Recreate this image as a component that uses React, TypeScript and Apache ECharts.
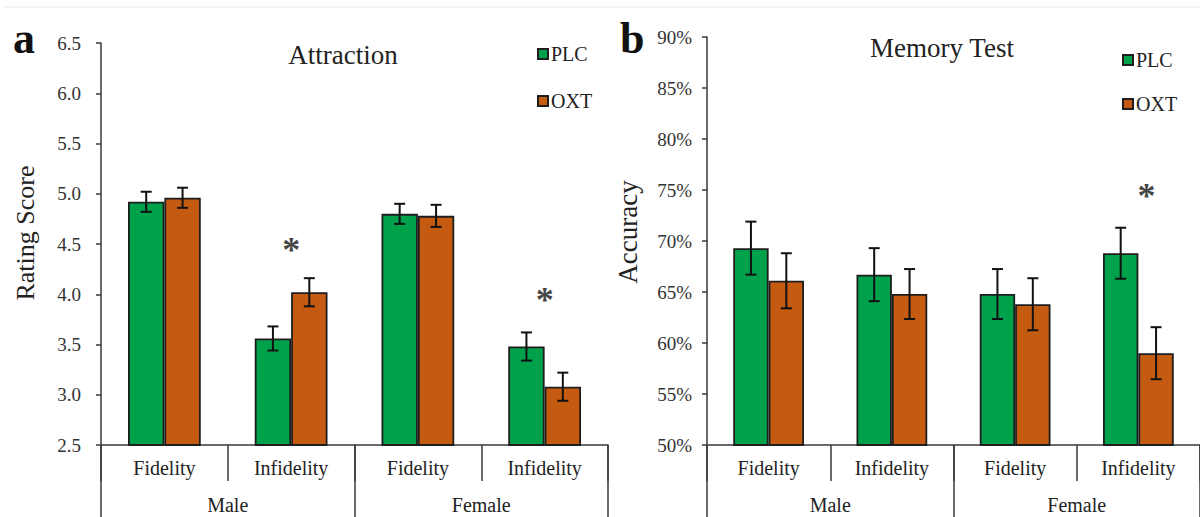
import React, { useEffect, useRef } from "react";
import * as echarts from "echarts";

const groups = ["Male", "Female"];
const conditions = ["Fidelity", "Infidelity", "Fidelity", "Infidelity"];
const seriesNames = ["PLC", "OXT"];

const attractionPLC = [4.92, 3.56, 4.8, 3.48];
const attractionPLCErr = [0.1, 0.12, 0.1, 0.14];
const attractionOXT = [4.96, 4.02, 4.78, 3.08];
const attractionOXTErr = [0.1, 0.14, 0.11, 0.14];
const attractionStars = [[1, 4.5], [3, 4.0]];
const attractionRange = [2.5, 6.5, 0.5];

const memoryPLC = [69.3, 66.7, 64.8, 68.8];
const memoryPLCErr = [2.6, 2.6, 2.45, 2.5];
const memoryOXT = [66.1, 64.8, 63.8, 59.0];
const memoryOXTErr = [2.7, 2.45, 2.55, 2.55];
const memoryStars = [[3, 75]];
const memoryRange = [50, 90, 5];

const FONT = "Liberation Serif";
const GREEN = "#00A14B";
const ORANGE = "#C55A11";
const BORDER = "#1e1e1e";
const AXIS = "#3a3a3a";
const BAR_FRAC = 0.287;

function errorSeries(xIdx: number, yIdx: number, vals: number[], errs: number[], sign: number) {
  return {
    type: "custom",
    xAxisIndex: xIdx,
    yAxisIndex: yIdx,
    silent: true,
    z: 10,
    encode: { x: 0, y: [1, 2] },
    data: vals.map((v, i) => [i, v - errs[i], v + errs[i]]),
    renderItem: (params: any, api: any) => {
      const i = api.value(0);
      const lo = api.coord([i, api.value(1)]);
      const hi = api.coord([i, api.value(2)]);
      const w = api.size([1, 0])[0];
      const x = lo[0] + (sign * w * BAR_FRAC) / 2;
      const cap = 5.5;
      const style = { stroke: "#111", lineWidth: 2 };
      return {
        type: "group",
        children: [
          { type: "line", shape: { x1: x, y1: hi[1], x2: x, y2: lo[1] }, style },
          { type: "line", shape: { x1: x - cap, y1: hi[1], x2: x + cap, y2: hi[1] }, style },
          { type: "line", shape: { x1: x - cap, y1: lo[1], x2: x + cap, y2: lo[1] }, style },
        ],
      };
    },
  };
}

function barSeries(name: string, xIdx: number, yIdx: number, vals: number[], color: string) {
  return {
    type: "bar",
    name,
    xAxisIndex: xIdx,
    yAxisIndex: yIdx,
    data: vals,
    barWidth: "28.7%",
    barGap: "0%",
    itemStyle: { color, borderColor: BORDER, borderWidth: 1.8 },
  };
}

function starSeries(xIdx: number, yIdx: number, pts: number[][], dx: number) {
  return {
    type: "scatter",
    xAxisIndex: xIdx,
    yAxisIndex: yIdx,
    silent: true,
    z: 12,
    symbolSize: 1,
    itemStyle: { color: "transparent" },
    data: pts,
    label: {
      show: true,
      position: "inside",
      formatter: "*",
      fontSize: 36,
      fontWeight: "bold",
      fontFamily: FONT,
      color: "#111",
      offset: [dx, 6],
    },
  };
}

function catAxes(gridIndex: number) {
  return [
    {
      type: "category",
      gridIndex,
      position: "bottom",
      data: conditions,
      axisLine: { show: true, lineStyle: { color: AXIS, width: 1.5 } },
      axisTick: { show: true, length: 36, interval: 0, alignWithLabel: false, lineStyle: { color: AXIS, width: 1.5 } },
      axisLabel: { margin: 13, fontSize: 20, fontFamily: FONT, color: "#222", interval: 0 },
    },
    {
      type: "category",
      gridIndex,
      position: "bottom",
      data: groups,
      axisLine: { show: false },
      axisTick: { show: true, length: 75, interval: 0, alignWithLabel: false, lineStyle: { color: AXIS, width: 1.5 } },
      axisLabel: { margin: 50, fontSize: 20, fontFamily: FONT, color: "#222", interval: 0 },
    },
  ];
}

function valAxis(gridIndex: number, range: number[], margin: number, fmt: (v: number) => string) {
  return {
    type: "value",
    gridIndex,
    min: range[0],
    max: range[1],
    interval: range[2],
    axisLine: { show: true, lineStyle: { color: AXIS, width: 1.5 } },
    axisTick: { show: true, length: 5, lineStyle: { color: AXIS, width: 1.5 } },
    splitLine: { show: false },
    axisLabel: { margin, fontSize: 19, fontFamily: FONT, color: "#333", formatter: fmt },
  };
}

function legend(left: number, top: number, gap: number) {
  return {
    orient: "vertical",
    left,
    top,
    padding: 0,
    itemGap: gap,
    itemWidth: 10,
    itemHeight: 10,
    icon: "rect",
    data: seriesNames,
    selectedMode: false,
    textStyle: { fontSize: 20, fontFamily: FONT, color: "#222", padding: [0, 0, 0, -2] },
  };
}

export default function App() {
  const ref = useRef<HTMLDivElement>(null);
  useEffect(() => {
    document.body.style.margin = "0";
    if (!ref.current) return;
    const chart = echarts.init(ref.current, null, { renderer: "svg" });
    chart.setOption({
      animation: false,
      backgroundColor: "#ffffff",
      textStyle: { fontFamily: FONT },
      grid: [
        { left: 101, top: 43, width: 507, height: 402 },
        { left: 707, top: 37, width: 493, height: 408 },
      ],
      xAxis: [...catAxes(0), ...catAxes(1)],
      yAxis: [
        valAxis(0, attractionRange, 20, (v: number) => v.toFixed(1)),
        valAxis(1, memoryRange, 15, (v: number) => `${v}%`),
      ],
      legend: [legend(537, 44, 27), legend(1122, 50, 24)],
      graphic: [
        { type: "line", shape: { x1: 4, y1: 7, x2: 1200, y2: 7 }, style: { stroke: "#e8e8e8", lineWidth: 1 } },
        { type: "text", x: 13, y: 38, style: { text: "a", font: `bold 44px ${FONT}`, fill: "#111", textVerticalAlign: "middle" } },
        { type: "text", x: 620, y: 38, style: { text: "b", font: `bold 44px ${FONT}`, fill: "#111", textVerticalAlign: "middle" } },
        { type: "text", x: 343, y: 55, style: { text: "Attraction", font: `27px ${FONT}`, fill: "#222", textAlign: "center", textVerticalAlign: "middle" } },
        { type: "text", x: 942, y: 48, style: { text: "Memory Test", font: `27px ${FONT}`, fill: "#222", textAlign: "center", textVerticalAlign: "middle" } },
        { type: "text", x: 25, y: 233, rotation: Math.PI / 2, style: { text: "Rating Score", font: `26px ${FONT}`, fill: "#222", textAlign: "center", textVerticalAlign: "middle" } },
        { type: "text", x: 628, y: 232, rotation: Math.PI / 2, style: { text: "Accuracy", font: `27px ${FONT}`, fill: "#222", textAlign: "center", textVerticalAlign: "middle" } },
      ],
      series: [
        barSeries("PLC", 0, 0, attractionPLC, GREEN),
        barSeries("OXT", 0, 0, attractionOXT, ORANGE),
        errorSeries(0, 0, attractionPLC, attractionPLCErr, -1),
        errorSeries(0, 0, attractionOXT, attractionOXTErr, 1),
        starSeries(0, 0, attractionStars, 0),
        barSeries("PLC", 2, 1, memoryPLC, GREEN),
        barSeries("OXT", 2, 1, memoryOXT, ORANGE),
        errorSeries(2, 1, memoryPLC, memoryPLCErr, -1),
        errorSeries(2, 1, memoryOXT, memoryOXTErr, 1),
        starSeries(2, 1, memoryStars, 8),
      ],
    });
    return () => chart.dispose();
  }, []);
  return <div ref={ref} style={{ width: 1200, height: 517 }} />;
}
